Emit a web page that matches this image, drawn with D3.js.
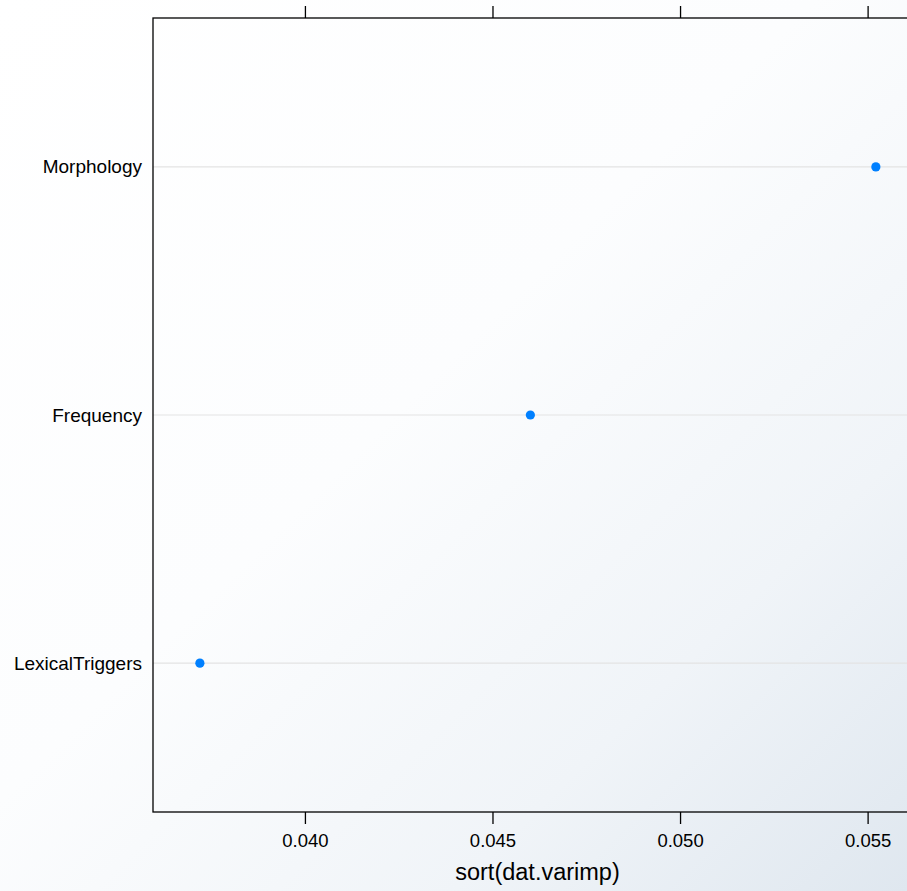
<!DOCTYPE html>
<html>
<head>
<meta charset="utf-8">
<script src="https://cdn.jsdelivr.net/npm/d3@7"></script>
<style>
  html, body { margin: 0; padding: 0; background: #fff; }
  svg { display: block; }
  text { font-family: "Liberation Sans", Arial, Helvetica, sans-serif; fill: #000; }
</style>
</head>
<body>
<svg id="chart" width="907" height="891"></svg>
<script>
// ---- data ----
const categories = ["Morphology", "Frequency", "LexicalTriggers"];
const values = [0.05522, 0.04601, 0.0372];
const xTicks = [0.040, 0.045, 0.050, 0.055];
const xDomain = [0.03595, 0.05645];
const xTitle = "sort(dat.varimp)";

const W = 907, H = 891;
const panel = { left: 153, top: 18, right: 922, bottom: 812 };

const svg = d3.select("#chart");

// background gradient
const defs = svg.append("defs");
const grad = defs.append("linearGradient")
  .attr("id", "bg").attr("x1", "0").attr("y1", "0").attr("x2", "1").attr("y2", "1");
grad.append("stop").attr("offset", "0").attr("stop-color", "#ffffff");
grad.append("stop").attr("offset", "0.45").attr("stop-color", "#fcfdfe");
grad.append("stop").attr("offset", "0.75").attr("stop-color", "#f0f4f8");
grad.append("stop").attr("offset", "1").attr("stop-color", "#dfe7ef");
svg.append("rect").attr("width", W).attr("height", H).attr("fill", "url(#bg)");

const x = d3.scaleLinear().domain(xDomain).range([panel.left, panel.right]);
const y = d3.scalePoint().domain(categories).range([panel.top, panel.bottom]).padding(0.6);

// grid lines
svg.append("g").selectAll("line").data(categories).join("line")
  .attr("x1", panel.left).attr("x2", panel.right)
  .attr("y1", d => y(d)).attr("y2", d => y(d))
  .attr("stroke", "#e3e3e3").attr("stroke-width", 1.2);

// points
svg.append("g").selectAll("circle").data(categories).join("circle")
  .attr("cx", (d, i) => x(values[i]))
  .attr("cy", d => y(d))
  .attr("r", 4.6)
  .attr("fill", "#0080ff");

// panel border
svg.append("rect")
  .attr("x", panel.left).attr("y", panel.top)
  .attr("width", panel.right - panel.left).attr("height", panel.bottom - panel.top)
  .attr("fill", "none").attr("stroke", "#000").attr("stroke-width", 1.3);

// bottom axis
const axB = svg.append("g").attr("transform", `translate(0,${panel.bottom})`)
  .call(d3.axisBottom(x).tickValues(xTicks).tickFormat(d3.format(".3f")).tickSize(12).tickPadding(10));
axB.select(".domain").remove();
axB.selectAll(".tick line").attr("stroke", "#000").attr("stroke-width", 1.3);
axB.selectAll(".tick text").style("font-size", "18.5px").style("font-family", '"Liberation Sans", Arial, sans-serif').attr("fill", "#000");

// top axis (ticks only)
const axT = svg.append("g").attr("transform", `translate(0,${panel.top})`)
  .call(d3.axisTop(x).tickValues(xTicks).tickFormat("").tickSize(12));
axT.select(".domain").remove();
axT.selectAll(".tick line").attr("stroke", "#000").attr("stroke-width", 1.3);

// left axis labels
const axL = svg.append("g").attr("transform", `translate(${panel.left},0)`)
  .call(d3.axisLeft(y).tickSize(0).tickPadding(11));
axL.select(".domain").remove();
axL.selectAll(".tick text").style("font-size", "19px").style("font-family", '"Liberation Sans", Arial, sans-serif').attr("fill", "#000");

// x title
svg.append("text")
  .attr("x", (panel.left + panel.right) / 2).attr("y", 880)
  .attr("text-anchor", "middle")
  .style("font-size", "23.5px")
  .text(xTitle);
</script>
</body>
</html>
